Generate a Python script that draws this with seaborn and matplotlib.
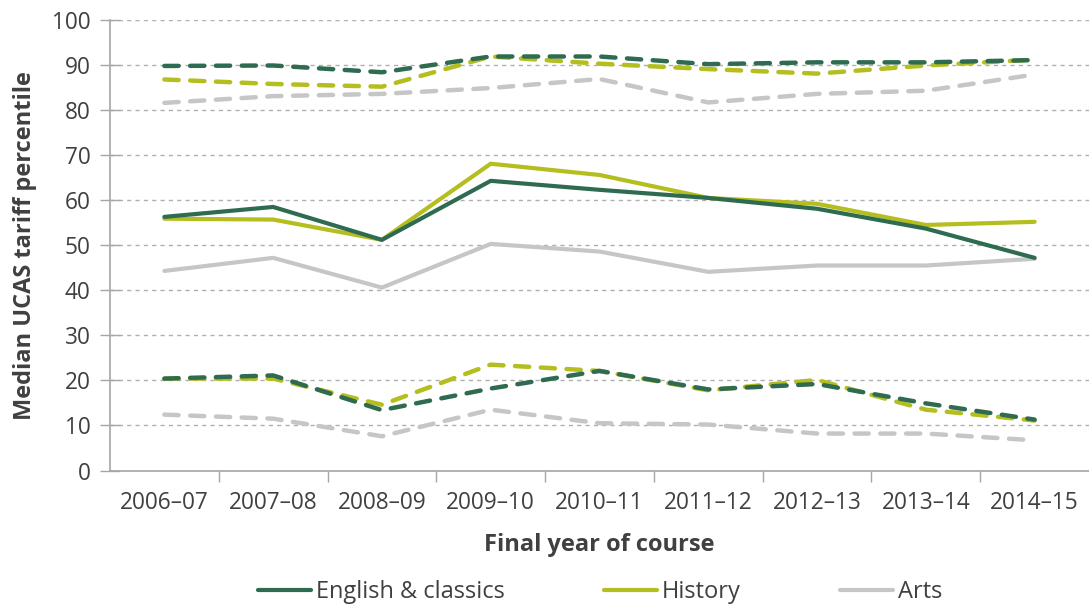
import numpy as np
import pandas as pd
import matplotlib
matplotlib.use("Agg")
import matplotlib.pyplot as plt
import seaborn as sns
from matplotlib.ticker import FixedLocator
from matplotlib.lines import Line2D

years = ["2006–07", "2007–08", "2008–09", "2009–10", "2010–11",
         "2011–12", "2012–13", "2013–14", "2014–15"]

english_median = [56.3, 58.5, 51.2, 64.3, 62.3, 60.5, 58.1, 53.7, 47.2]
history_median = [55.9, 55.7, 51.2, 68.1, 65.6, 60.5, 59.2, 54.5, 55.2]
arts_median = [44.3, 47.2, 40.6, 50.3, 48.6, 44.1, 45.5, 45.5, 47.0]

english_upper = [89.8, 89.9, 88.4, 91.9, 91.9, 90.2, 90.6, 90.6, 91.1]
history_upper = [86.8, 85.8, 85.2, 91.9, 90.3, 89.1, 88.1, 89.9, 91.2]
arts_upper = [81.6, 83.1, 83.6, 84.9, 86.9, 81.7, 83.6, 84.3, 87.9]

english_lower = [20.4, 21.1, 13.4, 18.2, 22.1, 18.0, 19.2, 14.9, 11.3]
history_lower = [20.4, 20.4, 14.6, 23.5, 22.1, 17.8, 20.1, 13.5, 11.1]
arts_lower = [12.4, 11.5, 7.6, 13.5, 10.5, 10.2, 8.2, 8.2, 6.7]

subjects = ["English & classics", "History", "Arts"]
colors = {"English & classics": "#2F6B50", "History": "#B4BE1E", "Arts": "#C6C6C6"}

rows = []
for subj, med, up, lo in [
    ("English & classics", english_median, english_upper, english_lower),
    ("History", history_median, history_upper, history_lower),
    ("Arts", arts_median, arts_upper, arts_lower),
]:
    for i, y in enumerate(years):
        rows.append({"year": y, "x": i, "subject": subj, "stat": "median", "value": med[i]})
        rows.append({"year": y, "x": i, "subject": subj, "stat": "upper", "value": up[i]})
        rows.append({"year": y, "x": i, "subject": subj, "stat": "lower", "value": lo[i]})
df = pd.DataFrame(rows)

sns.set_theme(style="white")
plt.rcParams["font.family"] = ["Open Sans", "DejaVu Sans"]

TICK = 16.3
LAB = 17.0

fig = plt.figure(figsize=(10.89, 6.08), dpi=100)
ax = fig.add_axes([110 / 1089, 1 - 470.5 / 608, 1 - 110 / 1089, (470.5 - 20) / 608])

order = ["Arts", "History", "English & classics"]
for subj in order:
    for stat in ["upper", "lower"]:
        d = df[(df.subject == subj) & (df.stat == stat)]
        sns.lineplot(data=d, x="x", y="value", ax=ax, color=colors[subj],
                     linewidth=3.2, linestyle=(0, (3.2, 2.6)), legend=False)
for subj in order:
    d = df[(df.subject == subj) & (df.stat == "median")]
    sns.lineplot(data=d, x="x", y="value", ax=ax, color=colors[subj],
                 linewidth=3.0, legend=False)

for ln in ax.lines:
    if ln.get_linestyle() != "-":
        ln.set_dash_capstyle("round")

ax.set_xlim(-0.5, 8.5)
ax.set_ylim(0, 100)
ax.set_yticks(np.arange(0, 101, 10))
ax.set_xticks(range(len(years)))
ax.set_xticklabels(years)
ax.xaxis.set_minor_locator(FixedLocator(np.arange(0.5, 8.0, 1.0)))

ax.grid(axis="y", color="#AFAFAF", linestyle=(0, (3, 3)), linewidth=1.0)
ax.set_axisbelow(True)

for side in ["top", "right"]:
    ax.spines[side].set_visible(False)
for side in ["left", "bottom"]:
    ax.spines[side].set_color("#A6A6A6")
    ax.spines[side].set_linewidth(1.2)

ax.tick_params(axis="y", which="major", direction="inout", length=14, width=1.0,
               color="#A6A6A6", labelsize=TICK, labelcolor="#404040", pad=7, left=True)
ax.tick_params(axis="x", which="major", length=0, labelsize=TICK, labelcolor="#404040", pad=15)
ax.tick_params(axis="x", which="minor", direction="out", length=8, width=1.0,
               color="#A6A6A6", bottom=True)

ax.set_xlabel("Final year of course", fontsize=LAB, fontweight="bold", color="#404040", labelpad=13)
ax.set_ylabel("Median UCAS tariff percentile", fontsize=LAB, fontweight="bold", color="#404040", labelpad=11)

handles = [Line2D([0], [0], color=colors[s], linewidth=3.0) for s in subjects]
fig.legend(handles, subjects, loc="center", bbox_to_anchor=(600 / 1089, 1 - 592 / 608),
           ncol=3, frameon=False, fontsize=LAB, handlelength=2.25, handletextpad=0.2,
           columnspacing=4.2, labelcolor="#404040")

fig.savefig("out.png", dpi=100)
